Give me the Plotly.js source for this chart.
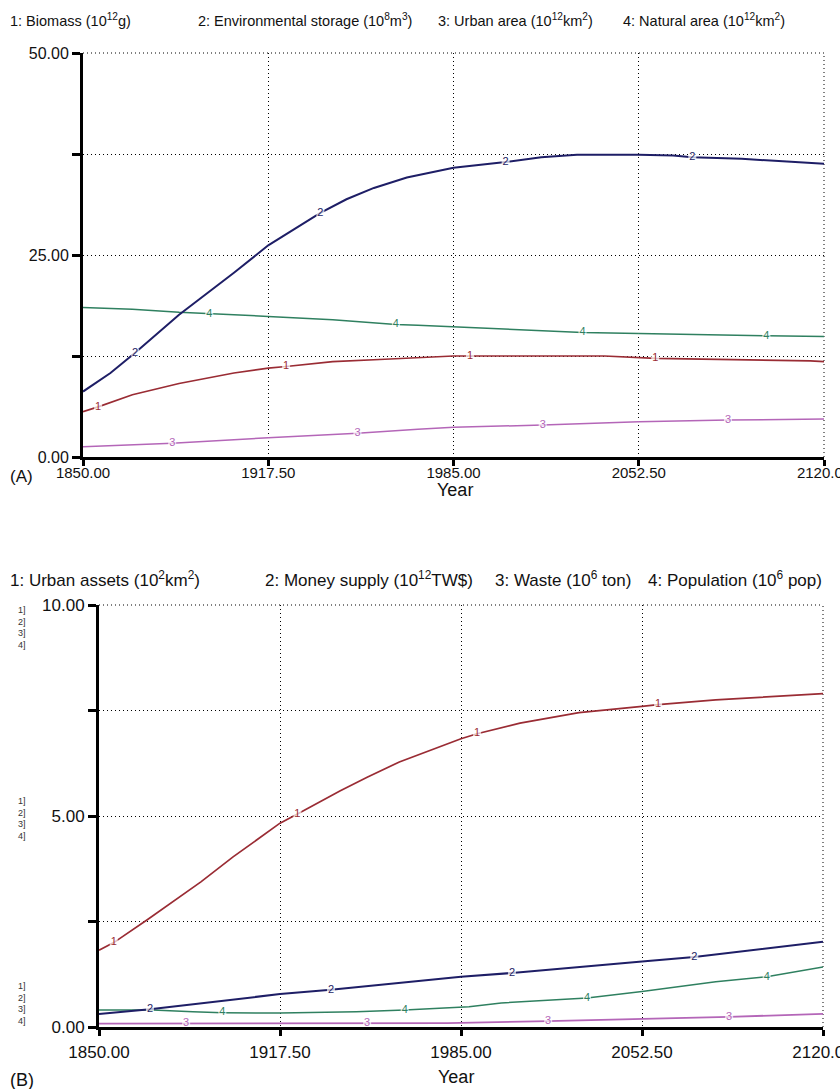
<!DOCTYPE html>
<html><head><meta charset="utf-8">
<script src="https://cdn.plot.ly/plotly-3.0.1.min.js"></script>
<style>html,body{margin:0;padding:0;background:#fff}#chart{width:840px;height:1089px}</style>
</head><body><div id="chart"></div>
<script>
// ---------- Data ----------
const xTicks = [1850, 1917.5, 1985, 2052.5, 2120];
const xTickText = ['1850.00', '1917.50', '1985.00', '2052.50', '2120.00'];
const yTicksA = [0, 12.5, 25, 37.5, 50];
const yTickTextA = ['0.00', '', '25.00', '', '50.00'];
const yTicksB = [0, 2.5, 5, 7.5, 10];
const yTickTextB = ['0.00', '', '5.00', '', '10.00'];

const legendA = ['1: Biomass (10<sup>12</sup>g)', '2: Environmental storage (10<sup>8</sup>m<sup>3</sup>)',
                 '3: Urban area (10<sup>12</sup>km<sup>2</sup>)', '4: Natural area (10<sup>12</sup>km<sup>2</sup>)'];
const legendB = ['1: Urban assets (10<sup>2</sup>km<sup>2</sup>)', '2: Money supply (10<sup>12</sup>TW$)',
                 '3: Waste (10<sup>6</sup> ton)', '4: Population (10<sup>6</sup> pop)'];

const labelYears1 = [1855.5, 1924, 1991, 2058.5];
const labelYears2 = [1869, 1936.5, 2004, 2072];
const labelYears3 = [1882.5, 1950, 2017.5, 2085];
const labelYears4 = [1896, 1964, 2032, 2099];

// Panel A
const biomassYears = [1850, 1855.5, 1868, 1885, 1905, 1917.5, 1924, 1941, 1960, 1972, 1985, 1991, 2010, 2040, 2058.5, 2080, 2100, 2115, 2120];
const biomass      = [5.6, 6.2, 7.7, 9.1, 10.4, 11.0, 11.2, 11.8, 12.1, 12.3, 12.5, 12.5, 12.5, 12.5, 12.2, 12.1, 12.0, 11.9, 11.8];
const envYears = [1850, 1860, 1869, 1885, 1905, 1917.5, 1936.5, 1946, 1956, 1968, 1985, 2004, 2017, 2030, 2052.5, 2065, 2072, 2090, 2105, 2120];
const envStorage = [8.1, 10.4, 12.9, 17.6, 22.8, 26.2, 30.2, 31.9, 33.3, 34.6, 35.8, 36.5, 37.1, 37.4, 37.4, 37.3, 37.1, 36.9, 36.6, 36.3];
const urbanYears = [1850, 1882.5, 1917.5, 1950, 1972, 1985, 2017.5, 2052.5, 2085, 2120];
const urbanArea  = [1.28, 1.69, 2.39, 2.93, 3.42, 3.67, 3.96, 4.37, 4.58, 4.7];
const naturalYears = [1850, 1868, 1885, 1896, 1917.5, 1941, 1964, 1972, 1985, 2009, 2032, 2052.5, 2078, 2099, 2120];
const naturalArea  = [18.5, 18.3, 17.9, 17.7, 17.4, 17.0, 16.4, 16.3, 16.1, 15.7, 15.4, 15.3, 15.1, 15.0, 14.9];

// Panel B
const assetsYears = [1850, 1855.5, 1868, 1888, 1900, 1917.5, 1924, 1940, 1950, 1962, 1985, 1991, 2007, 2029, 2052.5, 2058.5, 2080, 2100, 2120];
const urbanAssets = [1.82, 2.0, 2.54, 3.44, 4.03, 4.83, 5.05, 5.6, 5.92, 6.28, 6.83, 6.95, 7.2, 7.45, 7.6, 7.64, 7.75, 7.83, 7.9];
const moneyYears = [1850, 1869, 1917.5, 1936.5, 1985, 2004, 2052.5, 2072, 2120];
const moneySupply = [0.31, 0.42, 0.78, 0.88, 1.19, 1.28, 1.55, 1.66, 2.02];
const wasteYears = [1850, 1882.5, 1950, 1980, 2017.5, 2052.5, 2085, 2120];
const waste      = [0.08, 0.08, 0.08, 0.09, 0.14, 0.19, 0.24, 0.31];
const popYears = [1850, 1870, 1885, 1896, 1917.5, 1946, 1964, 1988, 2000, 2018, 2032, 2052.5, 2080, 2099, 2120];
const population = [0.40, 0.40, 0.36, 0.34, 0.33, 0.36, 0.40, 0.48, 0.57, 0.64, 0.69, 0.84, 1.07, 1.19, 1.42];

// ---------- Styling ----------
const W = 840, H = 1089;
const px = x => x / W, py = y => 1 - y / H;
const C1 = '#9a2c34', C2 = '#1e1e66', C3 = '#b466b8', C4 = '#2f8060';
const SANS = '"Liberation Sans", Arial, sans-serif';
const DOTS = '1px,3px';

function series(xs, ys, color, label, labelYears, xa, ya, w) {
  const isLab = xs.map(x => labelYears.includes(x));
  return {
    type: 'scatter', mode: 'lines+markers+text', x: xs, y: ys, xaxis: xa, yaxis: ya,
    line: {color: color, width: w, shape: 'linear'},
    marker: {symbol: 'square', color: '#fff', size: isLab.map(b => b ? 8 : 0), line: {width: 0}},
    text: isLab.map(b => b ? label : ''), textposition: 'middle center',
    textfont: {family: SANS, size: 11, color: color},
    cliponaxis: false, hoverinfo: 'skip', showlegend: false
  };
}

const data = [
  series(naturalYears, naturalArea, C4, '4', labelYears4, 'x', 'y', 1.5),
  series(urbanYears, urbanArea, C3, '3', labelYears3, 'x', 'y', 1.5),
  series(biomassYears, biomass, C1, '1', labelYears1, 'x', 'y', 1.7),
  series(envYears, envStorage, C2, '2', labelYears2, 'x', 'y', 2),
  series(wasteYears, waste, C3, '3', labelYears3, 'x2', 'y2', 1.8),
  series(popYears, population, C4, '4', labelYears4, 'x2', 'y2', 1.5),
  series(moneyYears, moneySupply, C2, '2', labelYears2, 'x2', 'y2', 2),
  series(assetsYears, urbanAssets, C1, '1', labelYears1, 'x2', 'y2', 1.7)
];

function xAxis(domain, anchor, size, standoff) {
  return {domain: domain, anchor: anchor, range: [1850, 2120], tickmode: 'array', tickvals: xTicks, ticktext: xTickText,
    ticks: 'outside', ticklen: 6, tickwidth: 3, tickcolor: '#000', showline: true, linewidth: 3, linecolor: '#000',
    showgrid: true, gridcolor: '#000', gridwidth: 1, griddash: DOTS, zeroline: false, ticklabeloverflow: 'allow',
    tickfont: {family: SANS, size: size, color: '#111'}, ticklabelstandoff: standoff, fixedrange: true};
}
function yAxis(domain, anchor, range, vals, txt, size) {
  return {domain: domain, anchor: anchor, range: range, tickmode: 'array', tickvals: vals, ticktext: txt,
    ticks: 'outside', ticklen: 8, tickwidth: 3, tickcolor: '#000', showline: true, linewidth: 3, linecolor: '#000',
    showgrid: true, gridcolor: '#000', gridwidth: 1, griddash: DOTS, zeroline: false, ticklabeloverflow: 'allow',
    tickfont: {family: SANS, size: size, color: '#111'}, fixedrange: true};
}

// dotted frame lines at the top and right edges of each plot (grid at range ends)
const shapes = [];
[['x', 'y'], ['x2', 'y2']].forEach(([xa, ya]) => {
  shapes.push({type: 'line', xref: xa + ' domain', yref: ya + ' domain', x0: 0, x1: 1, y0: 1, y1: 1, line: {color: '#000', width: 1, dash: DOTS}, layer: 'below'});
  shapes.push({type: 'line', xref: xa + ' domain', yref: ya + ' domain', x0: 1, x1: 1, y0: 0, y1: 1, line: {color: '#000', width: 1, dash: DOTS}, layer: 'below'});
});

const ann = [];
const legAX = [8, 196, 436, 621];
legendA.forEach((t, i) => ann.push({text: t, xref: 'paper', yref: 'paper', x: px(legAX[i]), y: py(20), xanchor: 'left', yanchor: 'middle', showarrow: false, font: {family: SANS, size: 14.5, color: '#111'}}));
const legBX = [8, 263, 493, 646];
legendB.forEach((t, i) => ann.push({text: t, xref: 'paper', yref: 'paper', x: px(legBX[i]), y: py(579), xanchor: 'left', yanchor: 'middle', showarrow: false, font: {family: SANS, size: 17, color: '#111'}}));
ann.push({text: '(A)', xref: 'paper', yref: 'paper', x: px(8), y: py(476), xanchor: 'left', yanchor: 'middle', showarrow: false, font: {family: SANS, size: 17, color: '#111'}});
ann.push({text: 'Year', xref: 'paper', yref: 'paper', x: px(455), y: py(490), xanchor: 'center', yanchor: 'middle', showarrow: false, font: {family: SANS, size: 18, color: '#111'}});
ann.push({text: '(B)', xref: 'paper', yref: 'paper', x: px(8), y: py(1080), xanchor: 'left', yanchor: 'middle', showarrow: false, font: {family: SANS, size: 18, color: '#111'}});
ann.push({text: 'Year', xref: 'paper', yref: 'paper', x: px(456), y: py(1077), xanchor: 'center', yanchor: 'middle', showarrow: false, font: {family: SANS, size: 18, color: '#111'}});
const stack = '1]<br>2]<br>3]<br>4]';
[[603, 'top'], [818, 'middle'], [1028, 'bottom']].forEach(([yy, anc]) => ann.push({text: stack, xref: 'paper', yref: 'paper', x: px(16), y: py(yy), xanchor: 'left', yanchor: anc, showarrow: false, font: {family: SANS, size: 9, color: '#333'}}));

const layout = {
  width: W, height: H, margin: {l: 0, r: 0, t: 0, b: 0}, paper_bgcolor: '#fff', plot_bgcolor: '#fff',
  showlegend: false,
  xaxis: xAxis([px(83), px(824)], 'y', 15, -6),
  yaxis: yAxis([py(457), py(53)], 'x', [0, 50], yTicksA, yTickTextA, 16),
  xaxis2: xAxis([px(99), px(823)], 'y2', 17, 2),
  yaxis2: yAxis([py(1027), py(605)], 'x2', [0, 10], yTicksB, yTickTextB, 17),
  shapes: shapes,
  annotations: ann
};

Plotly.newPlot('chart', data, layout, {staticPlot: true, displayModeBar: false});
</script></body></html>
